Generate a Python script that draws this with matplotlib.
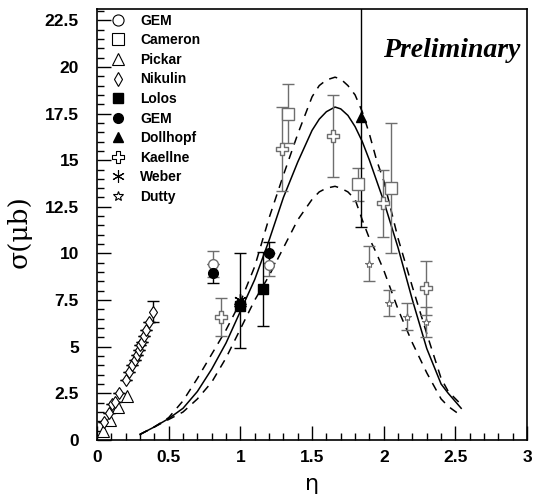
import matplotlib
matplotlib.use("Agg")
import matplotlib.pyplot as plt
from matplotlib.path import Path
from matplotlib.ticker import MultipleLocator
from matplotlib.lines import Line2D

# ---------------- data ----------------
gem_open_x = [0.806, 1.20]
gem_open_y = [9.45, 9.40]
gem_open_e = [0.70, 0.60]

cameron_x = [1.333, 1.822, 2.05]
cameron_y = [17.5, 13.7, 13.5]
cameron_e = [1.6, 0.9, 3.5]

pickar_x = [0.044, 0.089, 0.147, 0.206]
pickar_y = [0.48, 1.07, 1.79, 2.38]

nikulin_x = [0.049, 0.082, 0.107, 0.128, 0.152, 0.201, 0.224, 0.245, 0.262,
             0.276, 0.290, 0.301, 0.313, 0.327, 0.341, 0.362, 0.390]
nikulin_y = [0.98, 1.43, 1.93, 2.05, 2.54, 3.21, 3.66, 4.02, 4.29,
             4.55, 4.82, 5.09, 5.27, 5.57, 5.89, 6.32, 6.88]
nikulin_e = [0, 0, 0, 0, 0, 0, 0, 0, 0, 0, 0, 0, 0, 0, 0, 0, 0.55]

lolos_x = [1.0, 1.16]
lolos_y = [7.2, 8.1]
lolos_e = [0.0, 2.0]

gem_full_x = [0.806, 1.0, 1.20]
gem_full_y = [8.93, 7.3, 10.05]
gem_full_e = [0.5, 0.0, 0.55]

dollhopf_x = [1.84]
dollhopf_y = [17.3]
dollhopf_e = [5.9]

kaellne_x = [0.865, 1.287, 1.645, 1.997, 2.294]
kaellne_y = [6.6, 15.6, 16.3, 12.7, 8.15]
kaellne_e = [1.0, 2.25, 2.2, 1.8, 1.45]

weber_x = [1.0]
weber_y = [7.5]
weber_e = [2.55]

dutty_x = [1.896, 2.038, 2.164, 2.294]
dutty_y = [9.45, 7.36, 6.62, 6.34]
dutty_e = [0.95, 0.7, 0.75, 0.8]

curve_x = [0.30, 0.40, 0.50, 0.60, 0.70, 0.80, 0.90, 1.00, 1.10, 1.20, 1.30,
           1.40, 1.50, 1.55, 1.60, 1.66, 1.70, 1.75, 1.80, 1.85, 1.90, 1.95,
           2.00, 2.10, 2.20, 2.30, 2.40, 2.45, 2.54]
curve_mid = [0.30, 0.70, 1.15, 1.70, 2.60, 3.80, 5.20, 6.90, 8.60, 10.7, 13.0,
             14.9, 16.6, 17.2, 17.6, 17.85, 17.75, 17.4, 16.8, 16.0, 15.0, 13.9,
             12.8, 10.3, 7.5, 4.9, 3.0, 2.5, 1.7]
curve_hi = [0.30, 0.70, 1.20, 2.10, 3.30, 4.60, 5.90, 7.40, 9.30, 11.9, 14.2,
            16.4, 18.4, 19.0, 19.3, 19.45, 19.35, 19.0, 18.5, 17.6, 16.4, 15.0,
            13.9, 10.8, 8.2, 5.7, 3.3, 2.6, 1.9]
curve_lo = [0.30, 0.70, 1.10, 1.50, 2.20, 3.10, 4.40, 5.95, 7.50, 8.80, 10.3,
            11.8, 12.9, 13.3, 13.5, 13.6, 13.5, 13.3, 12.9, 11.8, 10.8, 10.0,
            9.10, 7.00, 5.2, 3.6, 2.2, 1.8, 1.3]

x_label = "η"
y_label = "σ(μb)"
label_text = "Preliminary"

# ---------------- style ----------------
plt.rcParams['font.family'] = ['Liberation Sans', 'DejaVu Sans']

fig = plt.figure(figsize=(5.33, 4.97), dpi=100)
ax = fig.add_axes([0.182, 0.1147, 0.807, 0.867])

# open cross marker (ROOT style 28)
w = 0.32
cross_verts = [(-w, 1), (w, 1), (w, w), (1, w), (1, -w), (w, -w), (w, -1),
               (-w, -1), (-w, -w), (-1, -w), (-1, w), (-w, w), (-w, 1)]
open_cross = Path(cross_verts, closed=True)

gray = '#6e6e6e'
blk = 'black'

# curves
ax.plot(curve_x, curve_mid, color='black', lw=1.1, zorder=2)
ax.plot(curve_x, curve_hi, color='black', lw=1.1, ls=(0, (5.5, 4.5)), zorder=2)
ax.plot(curve_x, curve_lo, color='black', lw=1.1, ls=(0, (5.5, 4.5)), zorder=2)

def eb(x, y, e, marker, ms, mfc, color, ecolor, mew=1.0):
    ax.errorbar(x, y, yerr=e, fmt='none', ecolor=ecolor, elinewidth=1.0,
                capsize=4, capthick=1.0, zorder=3)
    ax.plot(x, y, ls='none', marker=marker, ms=ms, mfc=mfc, mec=color,
            mew=mew, zorder=4)

eb(nikulin_x, nikulin_y, nikulin_e, 'd', 6, 'white', blk, blk, 0.8)
ax.plot(pickar_x, pickar_y, '^', ms=9, mfc='white', mec=blk, mew=0.8, ls='none', zorder=3)
eb(kaellne_x, kaellne_y, kaellne_e, open_cross, 9, 'white', gray, gray)
eb(cameron_x, cameron_y, cameron_e, 's', 8, 'white', gray, gray)
eb(gem_open_x, gem_open_y, gem_open_e, 'o', 7, 'white', gray, gray)
eb(lolos_x, lolos_y, lolos_e, 's', 7, blk, blk, blk)
eb(gem_full_x, gem_full_y, gem_full_e, 'o', 7, blk, blk, blk)
eb(dollhopf_x, dollhopf_y, dollhopf_e, '^', 7, blk, blk, blk)
eb(weber_x, weber_y, weber_e, (6, 2, 0), 9, blk, blk, blk)
eb(dutty_x, dutty_y, dutty_e, '*', 6, 'white', gray, gray, 0.8)

ax.set_xlim(0, 3)
ax.set_ylim(0, 23.1)

ax.xaxis.set_major_locator(MultipleLocator(0.5))
ax.xaxis.set_minor_locator(MultipleLocator(0.1))
ax.yaxis.set_major_locator(MultipleLocator(2.5))
ax.yaxis.set_minor_locator(MultipleLocator(0.5))
ax.tick_params(which='both', direction='in', top=False, right=False, width=1.0)
ax.tick_params(which='major', length=10, labelsize=12.5)
ax.tick_params(axis='y', which='major', pad=13)
ax.tick_params(axis='x', which='major', pad=7)
ax.tick_params(which='minor', length=5)
ax.xaxis.set_major_formatter(plt.FuncFormatter(lambda v, p: f"{v:g}"))
ax.yaxis.set_major_formatter(plt.FuncFormatter(lambda v, p: f"{v:g}"))
for lab in ax.get_xticklabels() + ax.get_yticklabels():
    lab.set_fontweight('bold')
for sp in ax.spines.values():
    sp.set_linewidth(1.2)

ax.set_xlabel(x_label, fontsize=16, family=['DejaVu Sans'])
ax.xaxis.set_label_coords(0.50, -0.078)
ax.set_ylabel(y_label, fontsize=19, family=['DejaVu Serif'])
ax.yaxis.set_label_coords(-0.151, 0.483)

ax.text(0.984, 0.905, label_text, transform=ax.transAxes, ha='right', va='center',
        fontsize=20, fontweight='bold', style='italic', family=['Liberation Serif'])

# legend
handles = [
    Line2D([], [], ls='none', marker='o', ms=8, mfc='white', mec=blk, mew=0.8),
    Line2D([], [], ls='none', marker='s', ms=8, mfc='white', mec=blk, mew=0.8),
    Line2D([], [], ls='none', marker='^', ms=8, mfc='white', mec=blk, mew=0.8),
    Line2D([], [], ls='none', marker='d', ms=7, mfc='white', mec=blk, mew=0.8),
    Line2D([], [], ls='none', marker='s', ms=7, mfc=blk, mec=blk),
    Line2D([], [], ls='none', marker='o', ms=7, mfc=blk, mec=blk),
    Line2D([], [], ls='none', marker='^', ms=7, mfc=blk, mec=blk),
    Line2D([], [], ls='none', marker=open_cross, ms=9, mfc='white', mec=blk, mew=0.8),
    Line2D([], [], ls='none', marker=(6, 2, 0), ms=9, mfc=blk, mec=blk, mew=0.8),
    Line2D([], [], ls='none', marker='*', ms=7, mfc='white', mec=blk, mew=0.8),
]
names = ["GEM", "Cameron", "Pickar", "Nikulin", "Lolos", "GEM", "Dollhopf",
         "Kaellne", "Weber", "Dutty"]
leg = ax.legend(handles, names, loc='upper left', bbox_to_anchor=(0.02, 1.002),
                frameon=False, prop={'weight': 'bold', 'size': 10},
                handlelength=1.0, handletextpad=1.08, labelspacing=0.40,
                borderaxespad=0.0)

fig.savefig("out.png", dpi=100)
